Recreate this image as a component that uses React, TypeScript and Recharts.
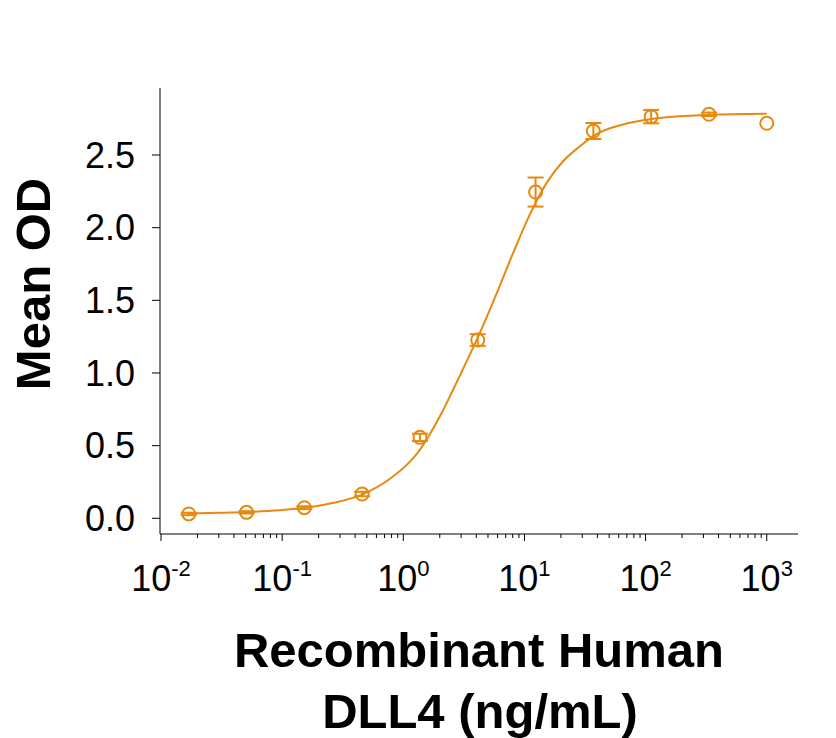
import React from 'react';
import { ComposedChart, Line, Scatter, ErrorBar, XAxis, YAxis } from 'recharts';

const ORANGE = '#E8890F';
const FONT = '"Liberation Sans", Arial, sans-serif';

// measured points: concentration (ng/mL), mean OD, SD
const concentrations = [0.01694, 0.0508, 0.1524, 0.4572, 1.372, 4.115, 12.35, 37.04, 111.1, 333.3, 1000];
const meanOD = [0.03, 0.041, 0.073, 0.167, 0.557, 1.227, 2.245, 2.665, 2.764, 2.78, 2.718];
const sdOD = [0.008, 0.008, 0.01, 0.015, 0.025, 0.04, 0.1, 0.055, 0.046, 0.012, null];

// fitted curve
const curveX = [0.01694, 0.0304, 0.0506, 0.0953, 0.1532, 0.261, 0.462, 0.772, 1.196, 1.393, 2.0, 2.924, 4.2, 5.91, 8.01, 11.07, 15.3, 20.74, 28.7, 39.6, 64.9, 112.7, 192, 333, 1000];
const curveY = [0.034, 0.038, 0.043, 0.055, 0.072, 0.105, 0.165, 0.27, 0.41, 0.48, 0.7, 0.98, 1.26, 1.55, 1.82, 2.09, 2.31, 2.455, 2.56, 2.645, 2.71, 2.748, 2.766, 2.777, 2.784];

const yTicks = [0, 0.5, 1, 1.5, 2, 2.5];
const majorTicks = [0.01, 0.1, 1, 10, 100, 1000];
const tickExponents = ['-2', '-1', '0', '1', '2', '3'];
const minorSteps = [2, 3, 4, 5, 6, 7, 8, 9];

const points = concentrations.map((x, i) => ({ x, y: meanOD[i], err: sdOD[i] }));
const curve = curveX.map((x, i) => ({ x, y: curveY[i] }));
const xTicks = [
  ...majorTicks,
  ...majorTicks.slice(0, -1).flatMap((m) => minorSteps.map((s) => +(m * s).toPrecision(3))),
].sort((a, b) => a - b);

const LogTick = (props: any) => {
  const { x, y, payload } = props;
  const idx = majorTicks.indexOf(payload.value);
  const major = idx >= 0;
  return (
    <g>
      <line x1={x} y1={y} x2={x} y2={y + (major ? 7 : 4)} stroke="#000" strokeWidth={1} />
      {major && (
        <text x={x} y={y + 57} textAnchor="middle" fontFamily={FONT} fontSize={36} fill="#000">
          <tspan>10</tspan>
          <tspan dy={-15} fontSize={22}>{tickExponents[idx]}</tspan>
        </text>
      )}
    </g>
  );
};

const Ring = (props: any) => {
  const { cx, cy } = props;
  return <circle cx={cx} cy={cy} r={6.5} fill="none" stroke={ORANGE} strokeWidth={2} />;
};

export default function App() {
  return (
    <div style={{ position: 'absolute', left: 0, top: 0, width: 836, height: 738, background: '#fff' }}>
      <ComposedChart width={836} height={738} margin={{ top: 88, right: 38, bottom: 144, left: 0 }}>
        <XAxis
          dataKey="x"
          type="number"
          scale="log"
          domain={[0.00981, 1811]}
          allowDataOverflow
          ticks={xTicks}
          interval={0}
          tick={<LogTick />}
          tickSize={0}
          tickMargin={0}
          tickLine={false}
          height={60}
          stroke="#000"
          label={{
            content: () => (
              <g fontFamily={FONT} fontWeight="bold" fontSize={49} fill="#000">
                <text x={479} y={667} textAnchor="middle">Recombinant Human</text>
                <text x={480} y={728} textAnchor="middle">DLL4 (ng/mL)</text>
              </g>
            ),
          }}
        />
        <YAxis
          dataKey="y"
          type="number"
          domain={[-0.108, 2.961]}
          allowDataOverflow
          ticks={yTicks}
          tickFormatter={(v: number) => v.toFixed(1)}
          width={160}
          tickSize={8}
          tickMargin={17}
          stroke="#000"
          tick={{ fill: '#000', fontSize: 36, fontFamily: FONT }}
          label={{
            content: () => (
              <text
                x={50}
                y={284}
                transform="rotate(-90, 50, 284)"
                textAnchor="middle"
                fontFamily={FONT}
                fontWeight="bold"
                fontSize={49}
                fill="#000"
              >
                Mean OD
              </text>
            ),
          }}
        />
        <Line
          data={curve}
          dataKey="y"
          type="monotone"
          stroke={ORANGE}
          strokeWidth={2}
          dot={false}
          activeDot={false}
          isAnimationActive={false}
        />
        <Scatter data={points} dataKey="y" shape={<Ring />} isAnimationActive={false}>
          <ErrorBar dataKey="err" direction="y" width={8} stroke={ORANGE} strokeWidth={2} isAnimationActive={false} />
        </Scatter>
      </ComposedChart>
    </div>
  );
}
